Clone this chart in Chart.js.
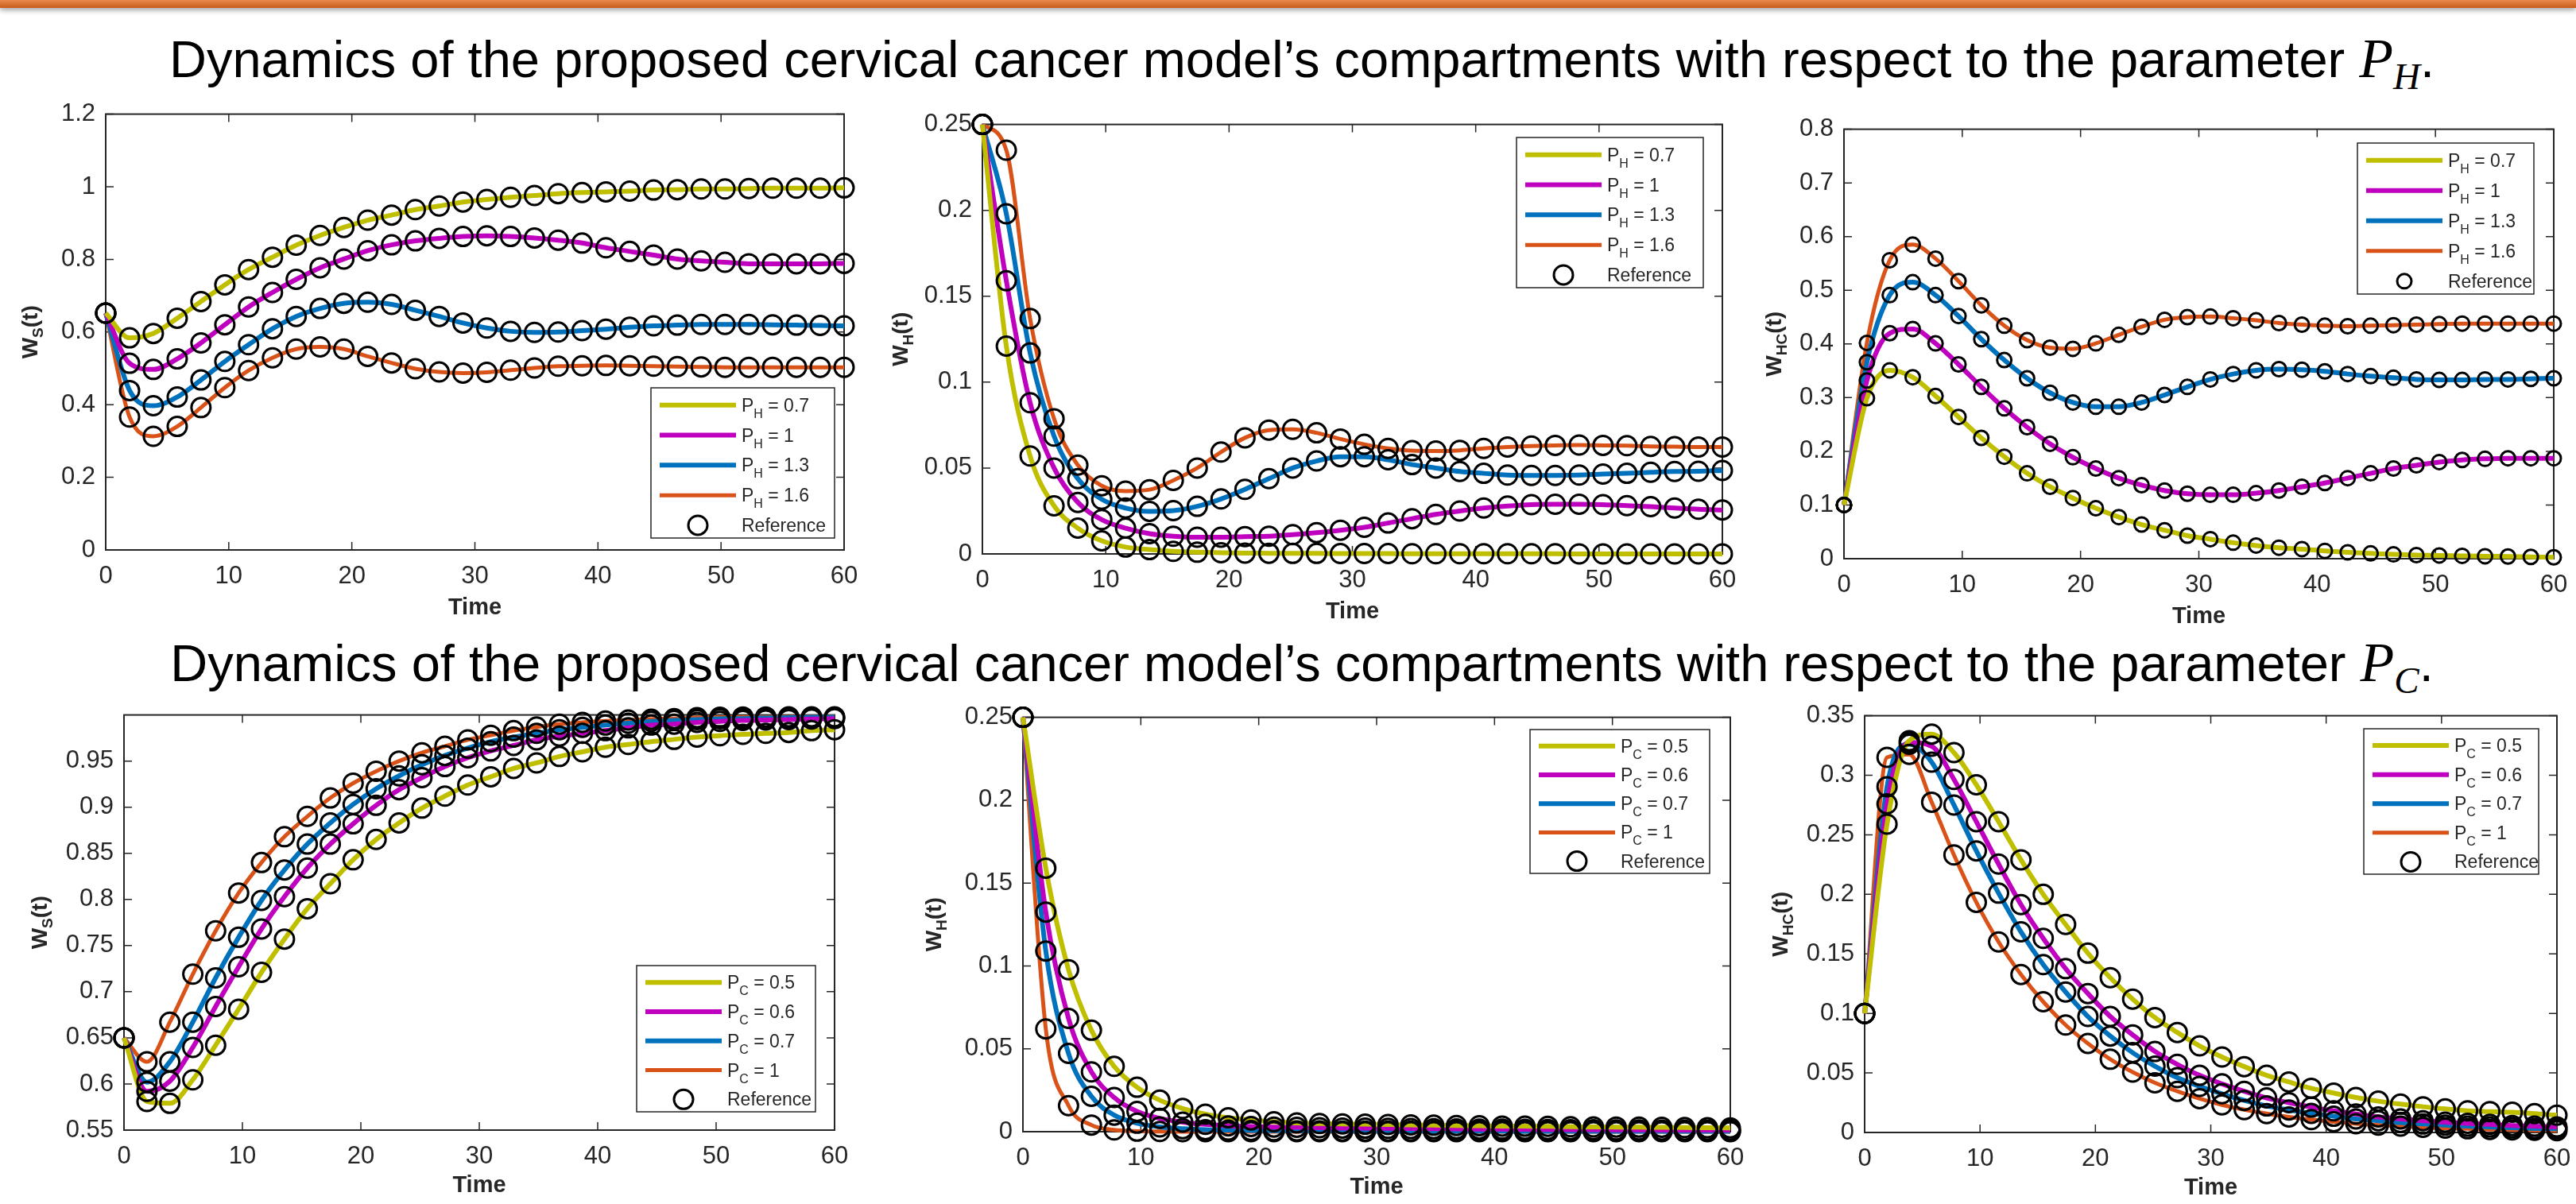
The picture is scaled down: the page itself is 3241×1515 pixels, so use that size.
<!DOCTYPE html>
<html>
<head>
<meta charset="utf-8">
<script src="https://cdn.jsdelivr.net/npm/chart.js@4.4.1/dist/chart.umd.min.js"></script>
<style>
  html, body { margin: 0; padding: 0; background: #fff; }
  body { width: 3241px; height: 1515px; position: relative; overflow: hidden;
         font-family: "Liberation Sans", Arial, sans-serif; }
  .bar { position: absolute; left: 0; top: 0; width: 3241px; height: 10px;
         background: linear-gradient(#e8894a, #c95c1b);
         box-shadow: 0 3px 6px rgba(0, 0, 0, 0.35); }
  .title { position: absolute; left: 0; width: 3241px; text-align: center; padding-left: 35px;
           box-sizing: border-box; font-size: 65px; line-height: 65px; color: #000; white-space: nowrap; }
  .title i { font-family: "Liberation Serif", serif; font-size: 70px; }
  .title sub { font-size: 47px; vertical-align: -15px; line-height: 0; }
  canvas { position: absolute; }
</style>
</head>
<body>
<div class="bar"></div>
<div class="title" style="top:41px">Dynamics of the proposed cervical cancer model’s compartments with respect to the parameter <i>P<sub>H</sub></i>.</div>
<div class="title" style="top:801px">Dynamics of the proposed cervical cancer model’s compartments with respect to the parameter <i>P<sub>C</sub></i>.</div>

<script>
// time points (reference markers)
const T = [0, 1.94, 3.87, 5.81, 7.74, 9.68, 11.61, 13.55, 15.48, 17.42, 19.35, 21.29, 23.23, 25.16, 27.1, 29.03,
  30.97, 32.9, 34.84, 36.77, 38.71, 40.65, 42.58, 44.52, 46.45, 48.39, 50.32, 52.26, 54.19, 56.13, 58.06, 60];

const xTicks = [0, 10, 20, 30, 40, 50, 60];
const yTicksWs = [0, 0.2, 0.4, 0.6, 0.8, 1, 1.2];
const yTicksWh = [0, 0.05, 0.1, 0.15, 0.2, 0.25];
const yTicksWhcH = [0, 0.1, 0.2, 0.3, 0.4, 0.5, 0.6, 0.7, 0.8];
const yTicksWsC = [0.55, 0.6, 0.65, 0.7, 0.75, 0.8, 0.85, 0.9, 0.95];
const yTicksWhcC = [0, 0.05, 0.1, 0.15, 0.2, 0.25, 0.3, 0.35];

const labelsPH = ["0.7", "1", "1.3", "1.6"];
const labelsPC = ["0.5", "0.6", "0.7", "1"];

// W_S(t), parameter P_H
const wsPH07 = [0.652, 0.584, 0.596, 0.638, 0.684, 0.730, 0.772, 0.806, 0.839, 0.866, 0.888, 0.908, 0.922, 0.937, 0.947, 0.958,
  0.965, 0.971, 0.976, 0.981, 0.984, 0.986, 0.988, 0.991, 0.992, 0.994, 0.994, 0.995, 0.996, 0.996, 0.996, 0.997];
const wsPH1 = [0.652, 0.514, 0.497, 0.526, 0.570, 0.620, 0.669, 0.709, 0.745, 0.777, 0.801, 0.824, 0.840, 0.851, 0.858, 0.863,
  0.865, 0.863, 0.859, 0.853, 0.845, 0.832, 0.822, 0.812, 0.801, 0.796, 0.792, 0.788, 0.788, 0.788, 0.788, 0.789];
const wsPH13 = [0.652, 0.439, 0.397, 0.421, 0.468, 0.519, 0.565, 0.609, 0.643, 0.665, 0.679, 0.682, 0.676, 0.660, 0.643, 0.625,
  0.611, 0.602, 0.599, 0.600, 0.604, 0.608, 0.613, 0.617, 0.619, 0.621, 0.621, 0.621, 0.620, 0.619, 0.618, 0.617];
const wsPH16 = [0.652, 0.366, 0.313, 0.340, 0.392, 0.447, 0.494, 0.529, 0.553, 0.559, 0.553, 0.533, 0.515, 0.499, 0.490, 0.487,
  0.489, 0.495, 0.501, 0.506, 0.507, 0.508, 0.507, 0.506, 0.505, 0.504, 0.503, 0.503, 0.503, 0.503, 0.503, 0.503];

// W_H(t), parameter P_H
const whPH07 = [0.25, 0.121, 0.057, 0.028, 0.015, 0.0076, 0.004, 0.0025, 0.0015, 0.001, 0.0007, 0.0005, 0.0004, 0.0003, 0.0003, 0.0002,
  0.0002, 0.0002, 0.0001, 0.0001, 0.0001, 0.0001, 0.0001, 0.0001, 0.0001, 0, 0, 0, 0, 0, 0, 0];
const whPH1 = [0.25, 0.159, 0.088, 0.050, 0.030, 0.020, 0.015, 0.0118, 0.0103, 0.0097, 0.0097, 0.0101, 0.0103, 0.0112, 0.0124, 0.0138,
  0.0155, 0.018, 0.0205, 0.023, 0.025, 0.0267, 0.0279, 0.0287, 0.0289, 0.0289, 0.0287, 0.0281, 0.0275, 0.0267, 0.026, 0.0256];
const whPH13 = [0.25, 0.198, 0.117, 0.0686, 0.0438, 0.0318, 0.0267, 0.0248, 0.0252, 0.0277, 0.032, 0.0376, 0.0438, 0.050, 0.0541, 0.0566,
  0.0566, 0.0548, 0.052, 0.050, 0.048, 0.0469, 0.0459, 0.0457, 0.0457, 0.0459, 0.0465, 0.0469, 0.0475, 0.048, 0.0481, 0.0486];
const whPH16 = [0.25, 0.235, 0.137, 0.0787, 0.0517, 0.0397, 0.0366, 0.0374, 0.0428, 0.050, 0.0593, 0.0676, 0.0721, 0.0725, 0.0705, 0.0669,
  0.0638, 0.0614, 0.0601, 0.0599, 0.0603, 0.0614, 0.0622, 0.0628, 0.0632, 0.0634, 0.0632, 0.063, 0.0626, 0.0624, 0.0622, 0.0622];

// W_HC(t), parameter P_H
const whcPH07 = [0.1, 0.299, 0.351, 0.338, 0.303, 0.264, 0.225, 0.190, 0.159, 0.134, 0.113, 0.094, 0.0775, 0.0636, 0.053, 0.043,
  0.0364, 0.0298, 0.0245, 0.0205, 0.0179, 0.0146, 0.0119, 0.0099, 0.008, 0.0066, 0.006, 0.0053, 0.0046, 0.004, 0.0033, 0.0026];
const whcPH1 = [0.1, 0.332, 0.420, 0.428, 0.401, 0.362, 0.320, 0.280, 0.245, 0.214, 0.189, 0.168, 0.150, 0.137, 0.127, 0.121,
  0.119, 0.119, 0.122, 0.127, 0.134, 0.141, 0.150, 0.159, 0.168, 0.174, 0.180, 0.184, 0.186, 0.187, 0.187, 0.187];
const whcPH13 = [0.1, 0.366, 0.491, 0.515, 0.491, 0.452, 0.409, 0.370, 0.336, 0.309, 0.291, 0.283, 0.283, 0.291, 0.305, 0.320,
  0.334, 0.344, 0.351, 0.353, 0.352, 0.349, 0.344, 0.340, 0.337, 0.334, 0.333, 0.333, 0.334, 0.334, 0.335, 0.336];
const whcPH16 = [0.1, 0.402, 0.556, 0.585, 0.559, 0.517, 0.472, 0.434, 0.407, 0.393, 0.391, 0.401, 0.417, 0.432, 0.445, 0.450,
  0.451, 0.448, 0.444, 0.439, 0.436, 0.434, 0.433, 0.434, 0.435, 0.436, 0.437, 0.438, 0.438, 0.438, 0.438, 0.438];

// W_S(t), parameter P_C
const wsPC05 = [0.65, 0.581, 0.579, 0.6045, 0.642, 0.681, 0.721, 0.757, 0.790, 0.817, 0.843, 0.865, 0.883, 0.899, 0.912, 0.924,
  0.933, 0.942, 0.948, 0.955, 0.960, 0.965, 0.968, 0.971, 0.9735, 0.976, 0.9775, 0.979, 0.980, 0.981, 0.983, 0.984];
const wsPC06 = [0.65, 0.592, 0.603, 0.6396, 0.684, 0.727, 0.768, 0.803, 0.834, 0.860, 0.882, 0.902, 0.919, 0.932, 0.944, 0.9536,
  0.961, 0.967, 0.973, 0.977, 0.980, 0.983, 0.986, 0.989, 0.990, 0.992, 0.993, 0.994, 0.9945, 0.995, 0.9955, 0.996];
const wsPC07 = [0.65, 0.602, 0.624, 0.667, 0.715, 0.759, 0.799, 0.832, 0.860, 0.883, 0.903, 0.920, 0.934, 0.946, 0.956, 0.964,
  0.971, 0.976, 0.980, 0.984, 0.9866, 0.989, 0.991, 0.993, 0.994, 0.995, 0.9958, 0.996, 0.9966, 0.997, 0.9974, 0.9974];
const wsPC1 = [0.65, 0.624, 0.667, 0.719, 0.766, 0.807, 0.840, 0.868, 0.890, 0.910, 0.926, 0.939, 0.950, 0.959, 0.966, 0.973,
  0.978, 0.983, 0.987, 0.990, 0.992, 0.9934, 0.9945, 0.9954, 0.996, 0.997, 0.9974, 0.9978, 0.9978, 0.998, 0.998, 0.998];

// W_H(t), parameter P_C
const whPC05 = [0.25, 0.159, 0.0977, 0.0612, 0.0394, 0.0268, 0.019, 0.014, 0.0106, 0.0084, 0.0071, 0.006, 0.0053, 0.0049, 0.0047, 0.0045,
  0.0043, 0.0041, 0.0039, 0.0037, 0.0036, 0.0034, 0.0033, 0.0032, 0.003, 0.0029, 0.0028, 0.0027, 0.0026, 0.0025, 0.0024, 0.0023];
const whPC06 = [0.25, 0.1325, 0.0683, 0.0361, 0.0206, 0.0122, 0.008, 0.0058, 0.0044, 0.0035, 0.0031, 0.0028, 0.0026, 0.0024, 0.0022, 0.0021,
  0.002, 0.0019, 0.0018, 0.0017, 0.0016, 0.0015, 0.0014, 0.0013, 0.0012, 0.0012, 0.0011, 0.0011, 0.001, 0.001, 0.001, 0.001];
const whPC07 = [0.25, 0.109, 0.0472, 0.0213, 0.010, 0.0051, 0.0029, 0.0018, 0.0012, 0.0009, 0.0007, 0.0006, 0.0005, 0.0005, 0.0004, 0.0004,
  0.0004, 0.0003, 0.0003, 0.0003, 0.0003, 0.0003, 0.0002, 0.0002, 0.0002, 0.0002, 0.0002, 0.0002, 0.0002, 0.0002, 0.0002, 0.0002];
const whPC1 = [0.25, 0.062, 0.0157, 0.004, 0.0011, 0.0003, 0.0001, 0, 0, 0, 0, 0, 0, 0, 0, 0,
  0, 0, 0, 0, 0, 0, 0, 0, 0, 0, 0, 0, 0, 0, 0, 0];

// W_HC(t), parameter P_C
const whcPC05 = [0.1, 0.259, 0.329, 0.3346, 0.319, 0.292, 0.261, 0.229, 0.200, 0.1747, 0.1506, 0.130, 0.112, 0.0965, 0.084, 0.0727,
  0.0634, 0.0553, 0.048, 0.0424, 0.0371, 0.0331, 0.0294, 0.0263, 0.0238, 0.0216, 0.0198, 0.0182, 0.0176, 0.017, 0.0158, 0.0145];
const whcPC06 = [0.1, 0.276, 0.3275, 0.3244, 0.2965, 0.261, 0.2254, 0.1914, 0.163, 0.1376, 0.1167, 0.0974, 0.082, 0.068, 0.0572, 0.048,
  0.0408, 0.0346, 0.029, 0.025, 0.0213, 0.0182, 0.0155, 0.013, 0.0114, 0.0099, 0.0087, 0.0077, 0.0068, 0.0059, 0.0053, 0.0046];
const whcPC07 = [0.1, 0.2904, 0.326, 0.311, 0.275, 0.2365, 0.201, 0.1685, 0.141, 0.118, 0.0974, 0.081, 0.067, 0.0557, 0.046, 0.0387,
  0.0325, 0.0269, 0.0223, 0.0189, 0.0161, 0.0136, 0.0114, 0.0099, 0.0083, 0.0071, 0.0062, 0.0053, 0.0046, 0.004, 0.0034, 0.0031];
const whcPC1 = [0.1, 0.315, 0.3176, 0.2774, 0.2331, 0.1933, 0.160, 0.1327, 0.1098, 0.0903, 0.0748, 0.0615, 0.0507, 0.0417, 0.0346, 0.0284,
  0.0232, 0.0192, 0.0158, 0.013, 0.0108, 0.009, 0.0074, 0.0062, 0.0053, 0.0043, 0.0037, 0.0031, 0.0025, 0.0022, 0.0019, 0.0015];

const FONT = '"Liberation Sans", Arial, sans-serif';
const INK = "#262626";
const COLORS = ["#bfbf00", "#bf00bf", "#0072bd", "#d95319"];
const WIDTHS = [6, 6, 6, 5];

// L/T/R/B = plot box on the page
const panels = [
  { L: 133, T: 136, R: 1062, B: 692, yMin: 0, yMax: 1.2, yTicks: yTicksWs, ySub: "S", yOff: 96, xh: 90,
    series: [wsPH07, wsPH1, wsPH13, wsPH16], sub: "H", labels: labelsPH, r: 12, leg: [819, 488, 231, 189] },
  { L: 1236, T: 149, R: 2167, B: 697, yMin: 0, yMax: 0.25, yTicks: yTicksWh, ySub: "H", yOff: 104, xh: 90,
    series: [whPH07, whPH1, whPH13, whPH16], sub: "H", labels: labelsPH, r: 12, leg: [1908, 173, 235, 189] },
  { L: 2320, T: 155, R: 3213, B: 703, yMin: 0, yMax: 0.8, yTicks: yTicksWhcH, ySub: "HC", yOff: 89, xh: 90,
    series: [whcPH07, whcPH1, whcPH13, whcPH16], sub: "H", labels: labelsPH, r: 9, leg: [2966, 180, 222, 190] },
  { L: 156, T: 892, R: 1050, B: 1422, yMin: 0.55, yMax: 1.0, yTicks: yTicksWsC, ySub: "S", yOff: 107, xh: 87,
    series: [wsPC05, wsPC06, wsPC07, wsPC1], sub: "C", labels: labelsPC, r: 12, leg: [801, 1215, 225, 184] },
  { L: 1287, T: 895, R: 2177, B: 1424, yMin: 0, yMax: 0.25, yTicks: yTicksWh, ySub: "H", yOff: 113, xh: 87,
    series: [whPC05, whPC06, whPC07, whPC1], sub: "C", labels: labelsPC, r: 12, leg: [1925, 918, 226, 181] },
  { L: 2346, T: 893, R: 3217, B: 1425, yMin: 0, yMax: 0.35, yTicks: yTicksWhcC, ySub: "HC", yOff: 107, xh: 87,
    series: [whcPC05, whcPC06, whcPC07, whcPC1], sub: "C", labels: labelsPC, r: 12, leg: [2974, 917, 220, 183] },
];

const PT = 24, PR = 34;

// MATLAB-like box, inward ticks, subscripted y label and legend
const matlabAxes = {
  id: "matlabAxes",
  beforeDatasetsDraw(chart) {
    const { ctx, chartArea: a, scales } = chart;
    const len = 10;
    ctx.save();
    ctx.strokeStyle = INK;
    ctx.lineWidth = 1.5;
    ctx.beginPath();
    scales.x.ticks.forEach(function (t) {
      const px = scales.x.getPixelForValue(t.value);
      ctx.moveTo(px, a.bottom); ctx.lineTo(px, a.bottom - len);
      ctx.moveTo(px, a.top); ctx.lineTo(px, a.top + len);
    });
    scales.y.ticks.forEach(function (t) {
      const py = scales.y.getPixelForValue(t.value);
      ctx.moveTo(a.left, py); ctx.lineTo(a.left + len, py);
      ctx.moveTo(a.right, py); ctx.lineTo(a.right - len, py);
    });
    ctx.stroke();
    ctx.lineWidth = 2;
    ctx.strokeRect(a.left, a.top, a.right - a.left, a.bottom - a.top);
    ctx.restore();
  },
  afterDraw(chart, args, o) {
    const { ctx, chartArea: a } = chart;
    ctx.save();
    // y label W_x(t)
    ctx.translate(a.left - o.yOff, (a.top + a.bottom) / 2);
    ctx.rotate(-Math.PI / 2);
    ctx.fillStyle = INK;
    ctx.textBaseline = "alphabetic";
    ctx.font = "bold 28px " + FONT;
    const wW = ctx.measureText("W").width, wT = ctx.measureText("(t)").width;
    ctx.font = "bold 19px " + FONT;
    const wS = ctx.measureText(o.ySub).width;
    let x = -(wW + wS + wT) / 2;
    ctx.font = "bold 28px " + FONT;
    ctx.fillText("W", x, 10); x += wW;
    ctx.font = "bold 19px " + FONT;
    ctx.fillText(o.ySub, x, 17); x += wS;
    ctx.font = "bold 28px " + FONT;
    ctx.fillText("(t)", x, 10);
    ctx.restore();

    // legend box
    const [bx, by, bw, bh] = o.leg;
    ctx.save();
    ctx.fillStyle = "#fff";
    ctx.fillRect(bx, by, bw, bh);
    ctx.strokeStyle = INK;
    ctx.lineWidth = 1.5;
    ctx.strokeRect(bx, by, bw, bh);
    const lines = chart.data.datasets.filter(function (d) { return d.showLine !== false; });
    const marks = chart.data.datasets.find(function (d) { return d.showLine === false; });
    for (let i = 0; i < 5; i++) {
      const ry = by + bh * (0.115 + 0.2 * i);
      const sx0 = bx + 11, sx1 = bx + 107;
      if (i < 4) {
        const d = lines[i];
        ctx.strokeStyle = d.borderColor;
        ctx.lineWidth = d.borderWidth;
        ctx.beginPath(); ctx.moveTo(sx0, ry); ctx.lineTo(sx1, ry); ctx.stroke();
      } else {
        ctx.strokeStyle = "#000";
        ctx.lineWidth = marks.pointBorderWidth;
        ctx.beginPath(); ctx.arc((sx0 + sx1) / 2, ry, marks.pointRadius, 0, Math.PI * 2); ctx.stroke();
      }
      ctx.fillStyle = INK;
      let tx = bx + 114;
      const base = ry + 8;
      if (i < 4) {
        ctx.font = "23px " + FONT;
        ctx.fillText("P", tx, base); tx += ctx.measureText("P").width;
        ctx.font = "16px " + FONT;
        ctx.fillText(o.sub, tx, base + 8); tx += ctx.measureText(o.sub).width;
        ctx.font = "23px " + FONT;
        ctx.fillText(" = " + o.labels[i], tx, base);
      } else {
        ctx.font = "23px " + FONT;
        ctx.fillText("Reference", tx, base);
      }
    }
    ctx.restore();
  },
};

panels.forEach(function (p) {
  const yw = p.yOff + 34;
  const left = p.L - yw, top = p.T - PT;
  const width = (p.R - p.L) + yw + PR;
  const height = (p.B - p.T) + PT + p.xh;
  const canvas = document.createElement("canvas");
  canvas.width = width;
  canvas.height = height;
  canvas.style.left = left + "px";
  canvas.style.top = top + "px";
  document.body.appendChild(canvas);

  const datasets = p.series.map(function (vals, i) {
    return {
      label: "P" + p.sub + " = " + p.labels[i],
      data: T.map(function (t, k) { return { x: t, y: vals[k] }; }),
      borderColor: COLORS[i],
      borderWidth: WIDTHS[i],
      pointRadius: 0,
      cubicInterpolationMode: "monotone",
      fill: false,
      clip: false,
      order: 1,
    };
  });
  p.series.forEach(function (vals, i) {
    datasets.push({
      label: i === 0 ? "Reference" : "",
      data: T.map(function (t, k) { return { x: t, y: vals[k] }; }),
      showLine: false,
      pointStyle: "circle",
      pointRadius: p.r,
      pointBorderWidth: 3,
      pointBorderColor: "#000",
      pointBackgroundColor: "rgba(0,0,0,0)",
      clip: false,
      order: 0,
    });
  });

  new Chart(canvas, {
    type: "line",
    data: { datasets: datasets },
    options: {
      responsive: false,
      animation: false,
      events: [],
      layout: { padding: { left: 0, top: PT, right: PR, bottom: 0 } },
      plugins: {
        legend: { display: false },
        tooltip: { enabled: false },
        matlabAxes: { yOff: p.yOff, ySub: p.ySub, sub: p.sub, labels: p.labels, leg: [p.leg[0] - left, p.leg[1] - top, p.leg[2], p.leg[3]] },
      },
      scales: {
        x: {
          type: "linear", min: 0, max: 60, bounds: "data",
          afterBuildTicks: function (s) { s.ticks = xTicks.map(function (v) { return { value: v }; }); },
          afterFit: function (s) { s.height = p.xh; },
          grid: { display: false, drawTicks: false },
          border: { display: false },
          ticks: { autoSkip: false, maxRotation: 0, padding: 15, color: INK, font: { family: FONT, size: 31 },
                   callback: function (v) { return String(v); } },
          title: { display: true, text: "Time", color: INK, padding: 0, font: { family: FONT, size: 29, weight: "bold" } },
        },
        y: {
          type: "linear", min: p.yMin, max: p.yMax, bounds: "data",
          afterBuildTicks: function (s) { s.ticks = p.yTicks.map(function (v) { return { value: v }; }); },
          afterFit: function (s) { s.width = yw; },
          grid: { display: false, drawTicks: false },
          border: { display: false },
          ticks: { autoSkip: false, padding: 13, color: INK, font: { family: FONT, size: 31 },
                   callback: function (v) { return String(v); } },
        },
      },
    },
    plugins: [matlabAxes],
  });
});
</script>
</body>
</html>
